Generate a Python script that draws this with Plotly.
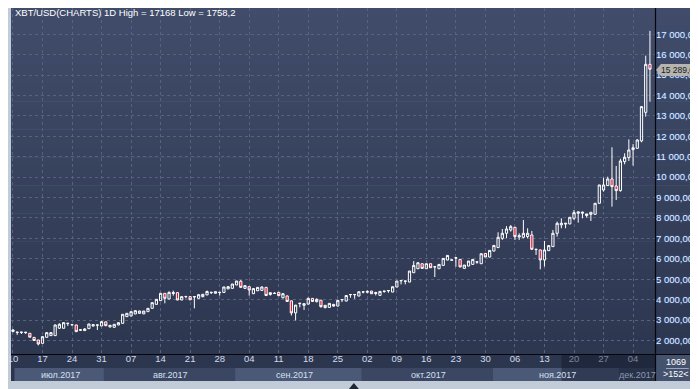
import plotly.graph_objects as go
import pandas as pd

# ---------------- data ----------------
dates = pd.date_range("2017-07-10", periods=152, freq="D")

open_ = [2440, 2390, 2395, 2380, 2350, 2150, 2022, 1859, 2153, 2235,
         2235, 2600, 2594, 2830, 2760, 2757, 2500, 2480, 2578, 2708,
         2745, 2708, 2910, 2660, 2643, 2757, 2838, 3166, 3198, 3296,
         3330, 3300, 3410, 3573, 3769, 3949, 4308, 4031, 4300, 4341,
         3982, 4145, 4145, 4130, 4063, 4145, 4230, 4340, 4310, 4345,
         4350, 4525, 4553, 4716, 4900, 4550, 4635, 4290, 4430, 4450,
         4602, 4250, 4300, 4357, 4090, 4180, 3940, 3350, 3800, 3720,
         3780, 4060, 3900, 3970, 3606, 3620, 3766, 3684, 3990, 3930,
         4240, 4240, 4174, 4370, 4360, 4419, 4300, 4207, 4400, 4430,
         4370, 4615, 4920, 4900, 4860, 5317, 5513, 5758, 5513, 5758,
         5600, 5513, 5676, 5938, 5930, 6040, 5970, 5529, 5644, 5725,
         5840, 5758, 6264, 6085, 6379, 6548, 7005, 7250, 7413, 7544,
         7070, 7054, 7087, 7168, 6450, 6433, 5944, 6400, 6597, 7250,
         7660, 7700, 7707, 7985, 8230, 8230, 8120, 8180, 8180, 8720,
         9372, 9585, 9911, 9568, 9340, 10760, 10957, 11350, 11414, 11773,
         13177, 15529]

high = [2560, 2410, 2410, 2410, 2360, 2160, 2030, 2190, 2390, 2400,
        2780, 2840, 2880, 2845, 2775, 2765, 2561, 2600, 2810, 2806,
        2760, 2925, 2925, 2760, 2795, 2875, 3285, 3330, 3415, 3465,
        3459, 3445, 3580, 3855, 4020, 4310, 4320, 4400, 4440, 4350,
        4150, 4160, 4150, 4150, 4265, 4280, 4440, 4360, 4395, 4360,
        4625, 4640, 4770, 4915, 4960, 4716, 4640, 4553, 4602, 4640,
        4610, 4357, 4357, 4360, 4300, 4200, 3950, 3740, 3830, 3818,
        4096, 4070, 4063, 3981, 3740, 3820, 3790, 3965, 4011, 4207,
        4256, 4256, 4390, 4386, 4452, 4425, 4386, 4405, 4419, 4452,
        4635, 4910, 4942, 4915, 5400, 5889, 5810, 5770, 5760, 5765,
        5615, 5730, 6020, 6170, 5950, 6055, 5980, 5695, 5890, 5975,
        5856, 6250, 6280, 6411, 6660, 7300, 7462, 7600, 7658, 7560,
        7250, 7903, 7495, 7364, 6470, 6450, 6874, 6660, 7413, 7820,
        7985, 7745, 8040, 8393, 8311, 8311, 8200, 8280, 8725, 9620,
        9977, 10026, 11463, 10548, 10900, 11170, 11855, 11620, 11855, 13488,
        15953, 17168]

low = [2400, 2270, 2315, 2320, 2150, 1980, 1758.2, 1850, 2150, 2230,
       2230, 2560, 2590, 2708, 2750, 2420, 2463, 2470, 2570, 2675,
       2512, 2700, 2705, 2640, 2640, 2750, 2830, 3150, 3190, 3290,
       3296, 3296, 3405, 3570, 3760, 3940, 3818, 4020, 4194, 3975,
       3975, 4063, 3982, 3573, 4050, 4112, 4220, 4275, 4300, 4194,
       4340, 4520, 4540, 4710, 4580, 4520, 4194, 4275, 4422, 4440,
       4194, 4194, 4290, 4190, 4060, 3900, 3220, 2980, 3620, 3491,
       3760, 3890, 3860, 3606, 3573, 3600, 3655, 3670, 3880, 3920,
       4092, 4043, 4170, 4305, 4305, 4280, 4207, 4200, 4337, 4337,
       4365, 4610, 4746, 4746, 4855, 5310, 5500, 5520, 5505, 5555,
       5105, 5505, 5670, 5930, 5925, 5611, 5595, 5520, 5640, 5720,
       5758, 5750, 6080, 6080, 6370, 6540, 6924, 7005, 7330, 6924,
       6924, 7005, 7005, 6433, 6188, 5486, 5617, 6390, 6590, 7087,
       7495, 7495, 7700, 7903, 7772, 7985, 8017, 7854, 8170, 8700,
       9290, 9570, 8556, 8882, 9290, 10630, 10793, 10565, 11400, 11708,
       12965, 13700]

close = [2510, 2405, 2405, 2400, 2160, 1995, 1826, 2186, 2382, 2382,
         2757, 2790, 2871, 2840, 2770, 2430, 2520, 2561, 2806, 2773,
         2757, 2920, 2720, 2740, 2790, 2871, 3280, 3329, 3410, 3459,
         3440, 3440, 3573, 3851, 4014, 4308, 4063, 4357, 4340, 3982,
         4145, 4155, 3990, 4145, 4240, 4259, 4400, 4357, 4390, 4357,
         4620, 4635, 4765, 4912, 4600, 4684, 4472, 4540, 4600, 4620,
         4200, 4340, 4310, 4194, 4290, 3910, 3350, 3730, 3820, 3800,
         4060, 3910, 4014, 3655, 3720, 3815, 3684, 3962, 4005, 4200,
         4250, 4250, 4386, 4380, 4400, 4288, 4340, 4403, 4415, 4445,
         4631, 4909, 4935, 4909, 5399, 5676, 5807, 5529, 5758, 5562,
         5611, 5725, 6019, 6166, 5945, 6052, 5600, 5693, 5889, 5970,
         5850, 6248, 6085, 6411, 6656, 7054, 7250, 7462, 7576, 7087,
         7130, 7250, 7250, 6466, 6466, 5944, 6433, 6646, 7250, 7740,
         7740, 7740, 8034, 8262, 8300, 8280, 8197, 8280, 8720, 9617,
         9617, 9911, 9536, 9340, 10793, 10973, 11332, 11440, 11822, 13455,
         15529, 15289]

y_tick_values = [2000, 3000, 4000, 5000, 6000, 7000, 8000, 9000, 10000,
                 11000, 12000, 13000, 14000, 15000, 16000, 17000]
y_tick_labels = ["2 000,000", "3 000,000", "4 000,000", "5 000,000",
                 "6 000,000", "7 000,000", "8 000,000", "9 000,000",
                 "10 000,00", "11 000,00", "12 000,00", "13 000,00",
                 "14 000,00", "15 000,00", "16 000,00", "17 000,00"]

month_labels = ["июл.2017", "авг.2017", "сен.2017", "окт.2017", "ноя.2017", "дек.2017"]
title_text = "XBT/USD(CHARTS) 1D High = 17168 Low = 1758,2"
last_price_label = "15 289,0"
corner_top = "1069"
corner_bottom = ">152<"

# ---------------- geometry (decoration only) ----------------
# The page has an 8px body margin, so the figure's origin sits at window (8, 8).
W, H = 690, 381
ML, MR, MT, MB = 0, 42, 0, 35
PW, PH = W - ML - MR, H - MT - MB  # 648 x 346


def px(x):
    """window x pixel -> paper coordinate"""
    return (x - 8 - ML) / PW


def py(y):
    """window y pixel -> paper coordinate"""
    return (H - MB - (y - 8)) / PH


def lerp_color(c1, c2, t):
    a = [int(c1[i:i + 2], 16) for i in (1, 3, 5)]
    b = [int(c2[i:i + 2], 16) for i in (1, 3, 5)]
    return "#" + "".join(f"{round(a[k] + (b[k] - a[k]) * t):02x}" for k in range(3))


shapes = []
# gradient background of the dark chart window
n_strips = 40
top_y, bot_y = 8, 381
for k in range(n_strips):
    y0 = top_y + (bot_y - top_y) * k / n_strips
    y1 = top_y + (bot_y - top_y) * (k + 1) / n_strips + 0.6
    shapes.append(dict(type="rect", xref="paper", yref="paper", layer="below",
                       x0=px(8), x1=px(698), y0=py(y1), y1=py(y0),
                       fillcolor=lerp_color("#404c69", "#2c354e", k / (n_strips - 1)),
                       line=dict(width=0)))

# month bands under the date labels
band_edges = [11.5, 101.5, 233.5, 361, 493, 620, 656]
band_cols = ["#4b5977", "#3a4662", "#4b5977", "#3a4662", "#4b5977", "#3a4662"]
for k in range(6):
    shapes.append(dict(type="rect", xref="paper", yref="paper", layer="below",
                       x0=px(band_edges[k]), x1=px(band_edges[k + 1]),
                       y0=py(381), y1=py(368),
                       fillcolor=band_cols[k], line=dict(width=0)))

# dim overlay at the right end of the date strip
shapes.append(dict(type="rect", xref="paper", yref="paper", layer="above",
                   x0=px(562), x1=px(656), y0=py(381), y1=py(355),
                   fillcolor="rgba(18,25,42,0.45)", line=dict(width=0)))

# corner box
shapes.append(dict(type="rect", xref="paper", yref="paper", layer="above",
                   x0=px(657), x1=px(698), y0=py(381), y1=py(355),
                   fillcolor="#45526e", line=dict(width=0)))
shapes.append(dict(type="line", xref="paper", yref="paper", layer="above",
                   x0=px(667), x1=px(690), y0=py(368.5), y1=py(368.5),
                   line=dict(color="#9aa6bc", width=1)))

# black separators
shapes.append(dict(type="line", xref="paper", yref="paper", layer="above",
                   x0=px(656.5), x1=px(656.5), y0=py(381), y1=py(8),
                   line=dict(color="#05070c", width=1.2)))
shapes.append(dict(type="line", xref="paper", yref="paper", layer="above",
                   x0=px(8), x1=px(698), y0=py(354.5), y1=py(354.5),
                   line=dict(color="#05070c", width=1.2)))

# light frame at the bottom
shapes.append(dict(type="rect", xref="paper", yref="paper", layer="above",
                   x0=px(8), x1=px(698), y0=py(389), y1=py(381),
                   fillcolor="#c2ccd9", line=dict(width=0)))

# price tag
shapes.append(dict(type="path", xref="paper", yref="paper", layer="above",
                   path=(f"M {px(657)},{py(70)} L {px(662)},{py(64)} L {px(698)},{py(64)} "
                         f"L {px(698)},{py(76)} L {px(662)},{py(76)} Z"),
                   fillcolor="#b4b4b0", line=dict(width=0)))

# small navigation triangle on the bottom frame
shapes.append(dict(type="path", xref="paper", yref="paper", layer="above",
                   path=f"M {px(348)},{py(389)} L {px(358)},{py(389)} L {px(353)},{py(383)} Z",
                   fillcolor="#1e2533", line=dict(width=0)))

FONT = "Liberation Sans, Arial, sans-serif"
annotations = [
    dict(text=title_text, x=px(10), y=py(12.5), xref="paper", yref="paper",
         xanchor="left", yanchor="middle", showarrow=False,
         font=dict(family=FONT, size=9.5, color="#ffffff")),
    dict(text=last_price_label, x=px(660), y=py(70), xref="paper", yref="paper",
         xanchor="left", yanchor="middle", showarrow=False,
         font=dict(family=FONT, size=8.5, color="#1a1a1a")),
    dict(text=corner_top, x=px(677), y=py(362), xref="paper", yref="paper",
         xanchor="center", yanchor="middle", showarrow=False,
         font=dict(family=FONT, size=9, color="#ffffff")),
    dict(text=corner_bottom, x=px(677), y=py(374), xref="paper", yref="paper",
         xanchor="center", yanchor="middle", showarrow=False,
         font=dict(family=FONT, size=9, color="#ffffff")),
]
month_centers = [58, 168, 293, 428, 558, 638]
month_colors = ["#d6e0f0", "#d6e0f0", "#d6e0f0", "#d6e0f0", "#d6e0f0", "#8d99b0"]
for k in range(6):
    annotations.append(dict(text=month_labels[k], x=px(month_centers[k]), y=py(374.5),
                            xref="paper", yref="paper", xanchor="center", yanchor="middle",
                            showarrow=False,
                            font=dict(family=FONT, size=9, color=month_colors[k])))

fig = go.Figure(go.Candlestick(
    x=dates, open=open_, high=high, low=low, close=close,
    increasing=dict(line=dict(color="#ffffff", width=1), fillcolor="rgba(0,0,0,0)"),
    decreasing=dict(line=dict(color="#ffffff", width=1), fillcolor="#e0102c"),
    whiskerwidth=0, hoverinfo="skip", showlegend=False,
))

fig.update_layout(
    width=W, height=H,
    margin=dict(l=ML, r=MR, t=MT, b=MB, pad=0),
    paper_bgcolor="#c2ccd9",
    plot_bgcolor="rgba(0,0,0,0)",
    showlegend=False,
    hovermode=False,
    boxgap=0.25,
    shapes=shapes,
    annotations=annotations,
    xaxis=dict(
        type="date",
        range=["2017-07-09 12:43", "2017-12-09 04:48"],
        tick0="2017-07-10", dtick=7 * 86400000, tickformat="%d",
        showgrid=True, gridcolor="#56627e", griddash="3px,3px", gridwidth=1,
        zeroline=False, showline=False, ticks="",
        ticklabelstandoff=-3, ticklabeloverflow="allow",
        tickfont=dict(family=FONT, size=9.5, color="#d0dbee"),
        rangeslider=dict(visible=False), fixedrange=True,
    ),
    yaxis=dict(
        side="right",
        range=[1335, 18289],
        tickvals=y_tick_values, ticktext=y_tick_labels,
        showgrid=True, gridcolor="#56627e", griddash="3px,3px", gridwidth=1,
        zeroline=False, showline=False, ticks="",
        tickfont=dict(family=FONT, size=9.5, color="#e8f0ff",
                      shadow="0px 0px 2px #2f6fd0"),
        fixedrange=True,
    ),
)

fig.write_html("out.html")
